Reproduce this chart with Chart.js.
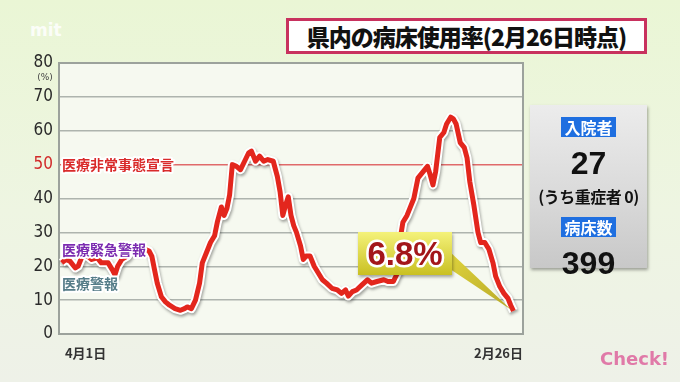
<!DOCTYPE html>
<html>
<head>
<meta charset="utf-8">
<script src="https://cdn.jsdelivr.net/npm/chart.js@4.4.1/dist/chart.umd.min.js"></script>
<style>
body{
    margin:0;
    width:680px;
    height:382px;
    overflow:hidden;
    position:relative;
    background:linear-gradient(180deg,#eaf6d5 0%,#eef5e2 55%,#eef1e8 100%);
    font-family:"Noto Sans CJK JP",sans-serif;
}
#chartBox{
    position:absolute;
    left:0;
    top:0;
}
.title{
    position:absolute;
    left:286px;
    top:18px;
    width:355px;
    height:30px;
    background:#fff;
    border:3px solid #c8325e;
    font-weight:900;
    font-size:23px;
    line-height:30px;
    text-align:center;
    letter-spacing:-1px;
    color:#111;
}
.logo{
    position:absolute;
    left:30px;
    top:20px;
    font-family:"DejaVu Sans";
    font-weight:bold;
    font-size:17px;
    color:rgba(255,255,255,0.85);
}
.panel{
    position:absolute;
    left:530px;
    top:105px;
    width:117px;
    height:163px;
    background:linear-gradient(180deg,#ececec 0%,#d8d8d8 60%,#c8c8c8 100%);
    box-shadow:1px 2px 3px rgba(0,0,0,0.35);
    text-align:center;
    color:#111;
}
.tag{
    display:inline-block;
    background:#1f6fe0;
    color:#fff;
    font-weight:bold;
    font-size:16px;
    line-height:20px;
    padding:0 3px;
}
.big{
    font-family:"Liberation Sans",sans-serif;
    font-weight:bold;
    font-size:32px;
    line-height:32px;
}
.sub{
    font-weight:bold;
    font-size:16px;
    line-height:18px;
    letter-spacing:-0.5px;
    white-space:nowrap;
    margin-left:-6px;
    margin-right:-6px;
}
.check{
    position:absolute;
    left:600px;
    top:348px;
    font-family:"DejaVu Sans";
    font-weight:bold;
    font-size:18px;
    color:#e07aa8;
}
</style>
</head>
<body>

<div class="logo">mit</div>
<div class="title">県内の病床使用率(2月26日時点)</div>

<div id="chartBox">
<canvas id="bedChart" width="680" height="382"></canvas>
</div>

<div class="panel">
    <div style="height:10px"></div>
    <span class="tag">入院者</span>
    <div class="big" style="margin-top:8px">27</div>
    <div class="sub" style="margin-top:8px">(うち重症者 0)</div>
    <div style="height:10px"></div>
    <span class="tag">病床数</span>
    <div class="big" style="margin-top:8px">399</div>
</div>

<div class="check">Check!</div>

<script>

// days since 4/1
const days = [
    0,3,6,10,12,15,19,22,26,29,34,37,39,41,44,48,51,56,61,64,
    66,68,70,73,76,79,83,87,90,92,95,98,101,103,106,109,112,114,117,119,
    121,123,125,128,131,134,137,139,142,145,148,151,155,158,160,162,164,166,168,170,
    172,175,177,179,182,185,188,191,194,198,202,205,208,210,213,216,220,224,227,231,
    236,239,243,246,248,250,253,255,258,261,265,268,270,272,274,277,280,282,285,287,
    289,292,295,297,299,302,305,307,310,313,316,318,321,324,327,329,331
];

// 病床使用率 (%)
const rates = [
    21,22,21.5,19.5,20,23,23,22,22.5,21,21,19,17.5,20,22,23,25,24.5,25,24.5,
    23,19,15,11,9.5,8.5,7.5,7,7.5,8,7.5,10,15,21,24,27,29,33,37.5,35,
    37,41,50,49.5,48.5,51,53.5,54,51,52.5,51,51.5,51,46.5,42,35,38,40.5,35,32,
    30,26,22,23,23,20,18,16,15,13.5,13,12,13,11.2,12.5,13,14.5,16,15,15.5,
    16,15.5,15.5,18,28,33,35,37,40,46,48,49.5,47,44,48,58,59.5,62,64,63.5,
    62,56.5,55,52,45,38,30,27,27,25,21,17,14,12,10.5,8.5,6.8
];

const yTickLabels = [0,10,15,20,25,30,40,50,60,70,80];
const xTickLabels = ["4月1日","2月26日"];
const xMin = -2, xMax = 338;

const linePoints = days.map((d,i) => ({x:d, y:rates[i]}));

const levels = [
    {value:50, text:"医療非常事態宣言", color:"#d92b2b"},
    {value:25, text:"医療緊急警報", color:"#7b2bb0"},
    {value:15, text:"医療警報", color:"#557c88"}
];

const plotDecor = {
    id:"plotDecor",
    beforeDraw(chart){
        const c = chart.ctx;
        const a = chart.chartArea;
        c.save();
        c.fillStyle = "#f6f9f0";
        c.fillRect(a.left,a.top,a.right-a.left,a.bottom-a.top);
        c.restore();
    },
    beforeDatasetsDraw(chart){
        const c = chart.ctx;
        const a = chart.chartArea;
        c.save();
        c.strokeStyle = "#9ca29c";
        c.lineWidth = 2;
        c.strokeRect(a.left,a.top,a.right-a.left,a.bottom-a.top);

        // (%)
        c.fillStyle = "#444";
        c.font = "9px 'DejaVu Sans'";
        c.textAlign = "center";
        c.fillText("(%)",45,80);
        c.restore();
    },
    beforeDatasetDraw(chart,args){
        // white outline gets a soft shadow
        if(args.index === 1){
            chart.ctx.save();
            chart.ctx.shadowColor = "rgba(0,0,0,0.35)";
            chart.ctx.shadowBlur = 3;
            chart.ctx.shadowOffsetX = 1;
            chart.ctx.shadowOffsetY = 2;
        }
    },
    afterDatasetDraw(chart,args){
        if(args.index === 1){
            chart.ctx.restore();
        }
    },
    afterDatasetsDraw(chart){
        const c = chart.ctx;
        const ys = chart.scales.y;
        const xs = chart.scales.x;
        c.save();

        // level labels
        c.font = "bold 14px 'Noto Sans CJK JP'";
        c.textAlign = "left";
        c.textBaseline = "middle";
        c.lineJoin = "round";
        levels.forEach(l => {
            const py = ys.getPixelForValue(l.value);
            c.strokeStyle = "#fff";
            c.lineWidth = 4;
            c.strokeText(l.text,62,py);
            c.fillStyle = l.color;
            c.fillText(l.text,62,py);
        });

        // callout to latest value
        const last = rates.length - 1;
        const tx = xs.getPixelForValue(days[last]) - 2;
        const ty = ys.getPixelForValue(rates[last]) - 1;
        const bx = 358, by = 232, bw = 94, bh = 43;

        const tri = c.createLinearGradient(bx+bw,by,tx,ty);
        tri.addColorStop(0,"#e6dc40");
        tri.addColorStop(1,"#b8a828");
        c.fillStyle = tri;
        c.beginPath();
        c.moveTo(bx+bw-4,by+18);
        c.lineTo(tx,ty);
        c.lineTo(bx+bw-2,by+bh-6);
        c.closePath();
        c.fill();

        c.shadowColor = "rgba(0,0,0,0.35)";
        c.shadowBlur = 3;
        c.shadowOffsetX = 1;
        c.shadowOffsetY = 2;
        const g = c.createLinearGradient(0,by,0,by+bh);
        g.addColorStop(0,"#f4f27a");
        g.addColorStop(1,"#c9c022");
        c.fillStyle = g;
        c.fillRect(bx,by,bw,bh);
        c.shadowColor = "transparent";

        c.font = "bold 33px 'Liberation Sans'";
        c.textAlign = "center";
        c.lineWidth = 5;
        c.strokeStyle = "#fff";
        c.strokeText(rates[last] + "%",bx+bw/2,by+bh/2+2);
        c.fillStyle = "#a3161a";
        c.fillText(rates[last] + "%",bx+bw/2,by+bh/2+2);

        c.restore();
    }
};

new Chart(document.getElementById("bedChart"),{

    type:"line",

    data:{
        datasets:[
            {
                data:linePoints,
                borderColor:"#e3261d",
                borderWidth:5,
                pointRadius:0,
                borderJoinStyle:"round"
            },
            {
                data:linePoints,
                borderColor:"#ffffff",
                borderWidth:9,
                pointRadius:0,
                borderJoinStyle:"round"
            }
        ]
    },

    options:{
        responsive:false,
        animation:false,
        layout:{
            padding:{left:0,right:157,top:63,bottom:0}
        },
        plugins:{
            legend:{display:false},
            tooltip:{enabled:false}
        },
        scales:{
            x:{
                type:"linear",
                min:xMin,
                max:xMax,
                afterFit:s => { s.height = 48; },
                afterBuildTicks:s => {
                    s.ticks = [{value:xMin},{value:xMax}];
                },
                grid:{display:false},
                border:{display:false},
                ticks:{
                    align:"inner",
                    padding:3,
                    color:"#333",
                    font:{family:"Noto Sans CJK JP",size:13,weight:"bold"},
                    callback:(v,i) => (i === 0 ? "  " : "") + xTickLabels[i]
                }
            },
            y:{
                min:0,
                max:80,
                afterFit:s => { s.width = 59; },
                grid:{
                    drawTicks:false,
                    lineWidth:1.5,
                    color:c => {
                        const v = c.tick.value;
                        if(v === 50) return "#e06a6a";
                        if(v === 25) return "#a46ad0";
                        if(v % 10 === 0) return "#aeb4ae";
                        return "#cdd2cb";
                    }
                },
                border:{display:false},
                ticks:{
                    stepSize:5,
                    padding:6,
                    font:{family:"DejaVu Sans Condensed",size:17},
                    color:c => {
                        if(c.tick.value === 50) return "#d22a2a";
                        if(c.tick.value === 25) return "#7b2bb0";
                        return "#2a2a2a";
                    },
                    callback:v => yTickLabels.includes(v) ? String(v) : ""
                }
            }
        }
    },

    plugins:[plotDecor]

});

</script>
</body>
</html>
